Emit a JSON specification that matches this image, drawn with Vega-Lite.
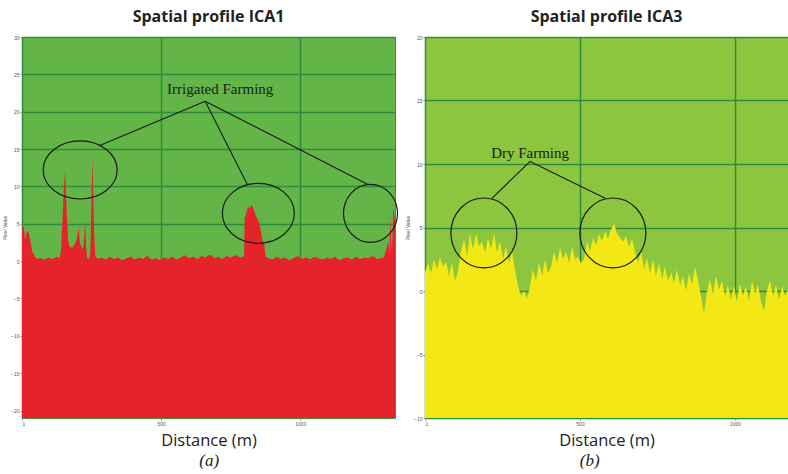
{
  "$schema": "https://vega.github.io/schema/vega-lite/v6.json",
  "padding": {"left": 2, "top": 8, "right": 0, "bottom": 0},
  "spacing": 4,
  "config": {
    "axis": {
      "labelFontSize": 5, "labelColor": "#555", "labelFont": "Liberation Sans",
      "titleFontSize": 5, "titleColor": "#555", "titleFont": "Liberation Sans", "titleFontWeight": "normal",
      "tickSize": 2, "tickColor": "#888", "domain": false,
      "gridColor": "#2f8c3c", "gridWidth": 1.5, "gridOpacity": 1,
      "labelPadding": 1, "titlePadding": 3, "tickCount": 12
    },
    "axisX": {"titleFontSize": 16.5, "titleFont": "Open Sans", "titleColor": "#222", "titlePadding": 6, "format": "d"}
  },
  "hconcat": [
    {
      "vconcat": [
        {
          "width": 373, "height": 381,
          "title": {"text": "Spatial profile ICA1", "fontSize": 16, "font": "Open Sans", "fontWeight": "bold", "color": "#222", "offset": 10, "anchor": "middle"},
          "view": {"fill": "#64b547", "stroke": "#4a8a3a", "strokeWidth": 1},
          "layer": [
            {
              "data": {"values": [
                {"d":0,"v":4.5},{"d":7,"v":4.5},{"d":11,"v":2.8},{"d":14,"v":3.6},{"d":22,"v":4.1},{"d":29,"v":3.0},{"d":36,"v":1.4},{"d":47,"v":0.6},{"d":54,"v":0.3},
                {"d":65,"v":0.4},{"d":80,"v":0.2},{"d":95,"v":0.5},{"d":110,"v":0.3},{"d":125,"v":0.6},{"d":135,"v":0.4},
                {"d":140,"v":1.5},{"d":145,"v":5},{"d":150,"v":9.5},{"d":155,"v":12.1},{"d":160,"v":7},{"d":165,"v":3},{"d":170,"v":2.0},{"d":180,"v":1.8},{"d":190,"v":2.3},{"d":198,"v":3.2},{"d":203,"v":4.5},{"d":208,"v":2.5},{"d":213,"v":2.0},{"d":219,"v":1.5},{"d":224,"v":3.5},{"d":227,"v":5.7},{"d":230,"v":2.0},{"d":234,"v":0.4},{"d":240,"v":0.3},{"d":245,"v":0.8},{"d":248,"v":5},{"d":251,"v":11},{"d":253,"v":13.7},{"d":256,"v":9},{"d":259,"v":4},{"d":263,"v":0.8},{"d":270,"v":0.3},
                {"d":285,"v":0.5},{"d":300,"v":0.2},{"d":315,"v":0.6},{"d":330,"v":0.3},{"d":345,"v":0.5},{"d":360,"v":0.1},{"d":375,"v":0.4},{"d":390,"v":0.6},{"d":405,"v":0.2},{"d":420,"v":0.5},{"d":435,"v":0.3},{"d":450,"v":0.7},{"d":465,"v":0.2},{"d":480,"v":0.4},{"d":495,"v":0.1},{"d":510,"v":0.5},{"d":525,"v":0.3},{"d":540,"v":0.6},{"d":555,"v":0.2},{"d":570,"v":0.5},{"d":585,"v":0.8},{"d":600,"v":0.4},{"d":615,"v":0.6},{"d":630,"v":0.3},{"d":645,"v":0.7},{"d":660,"v":0.5},{"d":675,"v":0.9},{"d":690,"v":0.4},{"d":705,"v":0.6},{"d":720,"v":0.3},{"d":735,"v":0.7},{"d":750,"v":0.5},{"d":765,"v":0.8},{"d":780,"v":0.6},{"d":792,"v":0.5},
                {"d":798,"v":0.8},{"d":800,"v":5.8},{"d":806,"v":6.5},{"d":812,"v":7.3},{"d":818,"v":7.0},{"d":824,"v":7.6},{"d":828,"v":7.2},{"d":834,"v":6.8},{"d":840,"v":6.0},{"d":846,"v":5.6},{"d":852,"v":5.2},{"d":858,"v":4.0},{"d":864,"v":2.7},{"d":870,"v":2.5},{"d":874,"v":0.6},
                {"d":885,"v":0.4},{"d":900,"v":0.2},{"d":915,"v":0.6},{"d":930,"v":0.3},{"d":945,"v":0.5},{"d":960,"v":0.1},{"d":975,"v":0.4},{"d":990,"v":0.7},{"d":1005,"v":0.3},{"d":1020,"v":0.5},{"d":1035,"v":0.2},{"d":1050,"v":0.6},{"d":1065,"v":0.4},{"d":1080,"v":0.2},{"d":1095,"v":0.5},{"d":1110,"v":0.3},{"d":1125,"v":0.6},{"d":1140,"v":0.1},{"d":1155,"v":0.4},{"d":1170,"v":0.5},{"d":1185,"v":0.2},{"d":1200,"v":0.6},{"d":1215,"v":0.3},{"d":1230,"v":0.5},{"d":1245,"v":0.4},{"d":1260,"v":0.7},{"d":1275,"v":0.3},{"d":1290,"v":0.4},{"d":1300,"v":0.5},
                {"d":1309,"v":1.7},{"d":1316,"v":2.7},{"d":1320,"v":1.0},{"d":1324,"v":6.1},{"d":1327,"v":1.4},{"d":1331,"v":3.0},{"d":1334,"v":7.1},{"d":1340,"v":5.4}
              ]},
              "mark": {"type": "area", "color": "#e5232a", "opacity": 1, "interpolate": "linear"},
              "encoding": {
                "x": {"field": "d", "type": "quantitative", "scale": {"domain": [0, 1340], "nice": false, "zero": false},
                      "axis": {"values": [0, 500, 1000], "labelExpr": "datum.value == 0 ? '1' : datum.label", "title": "Distance (m)", "grid": true}},
                "y": {"field": "v", "type": "quantitative", "scale": {"domain": [-21, 30], "nice": false, "zero": false},
                      "axis": {"values": [-20, -15, -10, -5, 0, 5, 10, 15, 20, 25, 30], "tickCount": 12, "labelOverlap": false, "title": "Pixel Value", "grid": true}},
                "y2": {"datum": -21}
              }
            },
            {
              "data": {"values": [
                {"d":658,"v":21.4,"d2":275,"v2":15.4},
                {"d":658,"v":21.4,"d2":809,"v2":10.3},
                {"d":658,"v":21.4,"d2":1241,"v2":10.3}
              ]},
              "mark": {"type": "rule", "color": "#1a1a1a", "strokeWidth": 1.1},
              "encoding": {
                "x": {"field": "d", "type": "quantitative"},
                "y": {"field": "v", "type": "quantitative"},
                "x2": {"field": "d2"},
                "y2": {"field": "v2"}
              }
            },
            {
              "data": {"values": [{"d":209,"v":12.2}]},
              "mark": {"type": "point", "filled": false, "stroke": "#1a1a1a", "strokeWidth": 1.2, "opacity": 1, "size": 5476,
                       "shape": "M -1 0 C -1 -0.433 -0.5523 -0.784 0 -0.784 C 0.5523 -0.784 1 -0.433 1 0 C 1 0.433 0.5523 0.784 0 0.784 C -0.5523 0.784 -1 0.433 -1 0 Z"},
              "encoding": {"x": {"field": "d", "type": "quantitative"}, "y": {"field": "v", "type": "quantitative"}}
            },
            {
              "data": {"values": [{"d":849,"v":6.4}]},
              "mark": {"type": "point", "filled": false, "stroke": "#1a1a1a", "strokeWidth": 1.2, "opacity": 1, "size": 5184,
                       "shape": "M -1 0 C -1 -0.46 -0.5523 -0.833 0 -0.833 C 0.5523 -0.833 1 -0.46 1 0 C 1 0.46 0.5523 0.833 0 0.833 C -0.5523 0.833 -1 0.46 -1 0 Z"},
              "encoding": {"x": {"field": "d", "type": "quantitative"}, "y": {"field": "v", "type": "quantitative"}}
            },
            {
              "data": {"values": [{"d":1252,"v":6.4}]},
              "mark": {"type": "point", "filled": false, "stroke": "#1a1a1a", "strokeWidth": 1.2, "opacity": 1, "size": 2916,
                       "shape": "M -1 0 C -1 -0.593 -0.5523 -1.074 0 -1.074 C 0.5523 -1.074 1 -0.593 1 0 C 1 0.593 0.5523 1.074 0 1.074 C -0.5523 1.074 -1 0.593 -1 0 Z"},
              "encoding": {"x": {"field": "d", "type": "quantitative"}, "y": {"field": "v", "type": "quantitative"}}
            },
            {
              "data": {"values": [{"d":712,"v":23.0,"label":"Irrigated Farming"}]},
              "mark": {"type": "text", "font": "Liberation Serif", "fontSize": 15, "color": "#1a1a1a"},
              "encoding": {"x": {"field": "d", "type": "quantitative"}, "y": {"field": "v", "type": "quantitative"}, "text": {"field": "label"}}
            }
          ]
        }
      ],
      "title": {"text": "(a)", "orient": "bottom", "anchor": "middle", "font": "Liberation Serif", "fontStyle": "italic", "fontSize": 17, "fontWeight": "normal", "color": "#222", "offset": 4, "dx": 8}
    },
    {
      "vconcat": [
        {
          "width": 363, "height": 381,
          "title": {"text": "Spatial profile ICA3", "fontSize": 16, "font": "Open Sans", "fontWeight": "bold", "color": "#222", "offset": 10, "anchor": "middle"},
          "view": {"fill": "#8cc63f", "stroke": "#6a9a3a", "strokeWidth": 1},
          "layer": [
            {
              "data": {"values": [
                {"d":0,"v":1.5},{"d":10,"v":2.2},{"d":19,"v":1.4},{"d":29,"v":2.5},{"d":39,"v":1.7},{"d":48,"v":2.7},{"d":58,"v":1.9},{"d":68,"v":2.3},{"d":77,"v":1.2},{"d":87,"v":2.2},{"d":97,"v":0.8},{"d":106,"v":1.5},{"d":116,"v":3.1},{"d":126,"v":4.1},{"d":136,"v":2.7},{"d":145,"v":4.5},{"d":155,"v":3.3},{"d":165,"v":4.5},{"d":174,"v":3.5},{"d":184,"v":3.9},{"d":194,"v":3.0},{"d":203,"v":4.2},{"d":213,"v":3.3},{"d":223,"v":4.5},{"d":232,"v":3.1},{"d":242,"v":3.9},{"d":252,"v":2.5},{"d":261,"v":3.5},{"d":271,"v":2.2},{"d":281,"v":3.1},{"d":290,"v":1.7},{"d":300,"v":0.4},{"d":310,"v":-0.4},{"d":319,"v":0},{"d":329,"v":-0.6},{"d":339,"v":0.4},{"d":348,"v":1.7},{"d":358,"v":0.8},{"d":368,"v":2.2},{"d":378,"v":1.2},{"d":387,"v":2.5},{"d":397,"v":1.4},{"d":407,"v":1.9},{"d":416,"v":3.1},{"d":426,"v":2.2},{"d":436,"v":3.4},{"d":445,"v":2.5},{"d":455,"v":3.1},{"d":465,"v":2.2},{"d":474,"v":3.5},{"d":484,"v":2.5},{"d":494,"v":2.7},{"d":503,"v":2.2},{"d":513,"v":2.5},{"d":523,"v":3.9},{"d":532,"v":3.1},{"d":542,"v":4.2},{"d":552,"v":3.6},{"d":561,"v":4.5},{"d":571,"v":3.9},{"d":581,"v":4.7},{"d":590,"v":4.1},{"d":600,"v":4.8},{"d":610,"v":5.3},{"d":620,"v":4.5},{"d":629,"v":4.2},{"d":639,"v":3.9},{"d":649,"v":4.3},{"d":658,"v":3.5},{"d":668,"v":4.1},{"d":678,"v":3.0},{"d":687,"v":2.2},{"d":697,"v":3.1},{"d":707,"v":1.7},{"d":716,"v":2.6},{"d":726,"v":1.4},{"d":736,"v":2.5},{"d":745,"v":1.2},{"d":755,"v":2.2},{"d":765,"v":0.9},{"d":774,"v":1.9},{"d":784,"v":0.8},{"d":794,"v":1.5},{"d":803,"v":0.6},{"d":813,"v":1.7},{"d":823,"v":0.4},{"d":832,"v":1.2},{"d":842,"v":0},{"d":852,"v":1.4},{"d":861,"v":0.5},{"d":871,"v":1.9},{"d":881,"v":0.8},{"d":890,"v":-0.4},{"d":900,"v":-1.8},{"d":910,"v":0},{"d":919,"v":0.9},{"d":929,"v":-0.2},{"d":939,"v":1.2},{"d":948,"v":0.1},{"d":958,"v":0.8},{"d":968,"v":-0.4},{"d":977,"v":0.5},{"d":987,"v":-0.7},{"d":997,"v":0.4},{"d":1006,"v":-0.8},{"d":1016,"v":0.6},{"d":1026,"v":-0.4},{"d":1035,"v":0.4},{"d":1045,"v":-0.8},{"d":1055,"v":0.8},{"d":1065,"v":-0.2},{"d":1074,"v":0.5},{"d":1084,"v":-0.8},{"d":1094,"v":-1.6},{"d":1103,"v":0},{"d":1113,"v":0.8},{"d":1123,"v":-0.4},{"d":1132,"v":0.5},{"d":1142,"v":-0.7},{"d":1152,"v":0.4},{"d":1161,"v":-0.4},{"d":1171,"v":0.1}
              ]},
              "mark": {"type": "area", "color": "#f3e816", "opacity": 1, "interpolate": "linear"},
              "encoding": {
                "x": {"field": "d", "type": "quantitative", "scale": {"domain": [0, 1171], "nice": false, "zero": false},
                      "axis": {"values": [0, 500, 1000], "labelExpr": "datum.value == 0 ? '1' : datum.label", "title": "Distance (m)", "grid": true}},
                "y": {"field": "v", "type": "quantitative", "scale": {"domain": [-10, 20], "nice": false, "zero": false},
                      "axis": {"values": [-10, -5, 0, 5, 10, 15, 20], "labelOverlap": false, "title": "Pixel Value", "grid": true}},
                "y2": {"datum": -10}
              }
            },
            {
              "data": {"values": [
                {"d":339,"v":10.2,"d2":216,"v2":7.3},
                {"d":339,"v":10.2,"d2":581,"v2":7.3}
              ]},
              "mark": {"type": "rule", "color": "#1a1a1a", "strokeWidth": 1.1},
              "encoding": {
                "x": {"field": "d", "type": "quantitative"},
                "y": {"field": "v", "type": "quantitative"},
                "x2": {"field": "d2"},
                "y2": {"field": "v2"}
              }
            },
            {
              "data": {"values": [{"d":190,"v":4.57},{"d":606,"v":4.57}]},
              "mark": {"type": "point", "filled": false, "stroke": "#1a1a1a", "strokeWidth": 1.2, "opacity": 1, "size": 4356,
                       "shape": "M -1 0 C -1 -0.585 -0.5523 -1.06 0 -1.06 C 0.5523 -1.06 1 -0.585 1 0 C 1 0.585 0.5523 1.06 0 1.06 C -0.5523 1.06 -1 0.585 -1 0 Z"},
              "encoding": {"x": {"field": "d", "type": "quantitative"}, "y": {"field": "v", "type": "quantitative"}}
            },
            {
              "data": {"values": [{"d":339,"v":10.9,"label":"Dry Farming"}]},
              "mark": {"type": "text", "font": "Liberation Serif", "fontSize": 15, "color": "#1a1a1a"},
              "encoding": {"x": {"field": "d", "type": "quantitative"}, "y": {"field": "v", "type": "quantitative"}, "text": {"field": "label"}}
            }
          ]
        }
      ],
      "title": {"text": "(b)", "orient": "bottom", "anchor": "middle", "font": "Liberation Serif", "fontStyle": "italic", "fontSize": 17, "fontWeight": "normal", "color": "#222", "offset": 4, "dx": -7}
    }
  ]
}
